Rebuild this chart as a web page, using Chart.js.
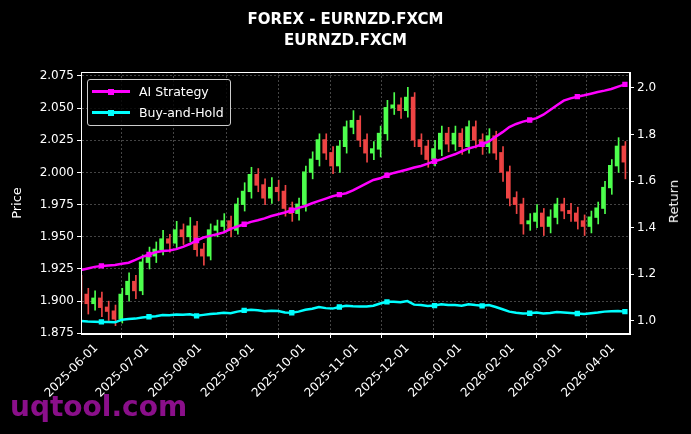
<!DOCTYPE html>
<html><head><meta charset="utf-8">
<script src="https://cdn.jsdelivr.net/npm/chart.js@4/dist/chart.umd.min.js"></script>
<style>
html,body{margin:0;padding:0;background:#000;overflow:hidden}
#wrap{position:relative;width:691px;height:434px;font-family:"DejaVu Sans",sans-serif}
#title{position:absolute;top:9px;left:0;width:691px;text-align:center;color:#fff;font-weight:bold;font-size:15px;line-height:21px}
#legend{position:absolute;left:87px;top:79px;border:1px solid #ccc;border-radius:3px;padding:1px 6px 2px 4px;color:#fff;font-size:12.5px;line-height:21px;background:rgba(0,0,0,0.8)}
#legend span.l{display:inline-block;width:38px;height:3px;vertical-align:middle;margin-right:9px;position:relative;top:-1px}
#legend span.l i{position:absolute;left:16px;top:-1.5px;width:6px;height:6px}
#wm{position:absolute;left:10px;top:390px;color:#8a0f8a;font-weight:bold;font-size:28px;font-family:"DejaVu Sans",sans-serif}
#rt{position:absolute;left:666px;top:180px;color:#ffffff;font-weight:normal;font-size:13px;line-height:16px;writing-mode:vertical-rl;transform:rotate(180deg);z-index:5}
</style></head><body>
<div id="wrap">
<canvas id="c" width="691" height="434"></canvas>
<div id="title">FOREX - EURNZD.FXCM<br>EURNZD.FXCM</div>
<div id="legend"><div><span class="l" style="background:#ff00ff"><i style="background:#ff00ff"></i></span>AI Strategy</div><div><span class="l" style="background:#00ffff"><i style="background:#00ffff"></i></span>Buy-and-Hold</div></div>
<div id="rt">Return</div>
<div id="wm">uqtool.com</div>
</div>
<script>
// day offsets from 2025-05-23, every 4 days
const startDate = Date.UTC(2025,4,23);
const days = [];
for (let d = 0; d <= 320; d += 4) days.push(d);
const firstOpen = 1.915;
const closes = [1.905,1.898,1.902,1.895,1.892,1.886,1.905,1.915,1.908,1.930,1.935,1.940,1.948,1.945,1.955,1.950,1.958,1.940,1.935,1.955,1.958,1.962,1.955,1.975,1.985,1.998,1.990,1.980,1.988,1.985,1.972,1.968,1.975,2.000,2.010,2.025,2.015,2.005,2.020,2.035,2.040,2.025,2.015,2.018,2.030,2.050,2.052,2.048,2.058,2.025,2.020,2.010,2.018,2.030,2.022,2.030,2.020,2.035,2.025,2.020,2.028,2.015,2.000,1.980,1.975,1.960,1.962,1.968,1.958,1.965,1.975,1.970,1.968,1.962,1.958,1.965,1.972,1.988,2.005,2.020,2.008];
const highs = [1.920,1.910,1.908,1.907,1.900,1.897,1.910,1.922,1.920,1.936,1.942,1.946,1.955,1.952,1.962,1.960,1.965,1.962,1.945,1.960,1.963,1.968,1.966,1.980,1.992,2.004,2.003,1.995,1.996,1.994,1.990,1.977,1.980,2.005,2.016,2.030,2.030,2.020,2.025,2.040,2.048,2.044,2.030,2.024,2.036,2.056,2.062,2.058,2.066,2.062,2.030,2.025,2.025,2.036,2.035,2.036,2.034,2.040,2.040,2.030,2.034,2.032,2.020,2.005,1.985,1.980,1.968,1.975,1.972,1.971,1.980,1.980,1.976,1.973,1.967,1.970,1.977,1.993,2.010,2.027,2.024];
const lows = [1.898,1.890,1.893,1.888,1.885,1.881,1.883,1.900,1.902,1.905,1.925,1.930,1.936,1.938,1.940,1.944,1.946,1.935,1.928,1.932,1.950,1.953,1.950,1.952,1.970,1.980,1.985,1.975,1.976,1.978,1.966,1.962,1.963,1.970,1.995,2.005,2.010,1.999,2.000,2.015,2.030,2.020,2.008,2.010,2.012,2.025,2.045,2.042,2.043,2.020,2.014,2.004,2.005,2.013,2.016,2.017,2.014,2.015,2.019,2.014,2.015,2.010,1.993,1.974,1.968,1.952,1.955,1.957,1.951,1.953,1.960,1.964,1.962,1.956,1.951,1.953,1.960,1.968,1.983,2.000,1.995];
const aiReturn = [1.218,1.225,1.232,1.236,1.238,1.240,1.245,1.250,1.262,1.275,1.285,1.295,1.300,1.302,1.308,1.318,1.330,1.345,1.358,1.365,1.372,1.380,1.395,1.405,1.415,1.425,1.432,1.440,1.450,1.458,1.465,1.475,1.485,1.493,1.505,1.515,1.525,1.535,1.542,1.548,1.560,1.575,1.590,1.605,1.612,1.625,1.635,1.642,1.650,1.658,1.665,1.675,1.685,1.693,1.705,1.715,1.728,1.740,1.748,1.758,1.770,1.790,1.810,1.832,1.845,1.855,1.862,1.870,1.885,1.905,1.925,1.945,1.955,1.962,1.968,1.975,1.982,1.988,1.995,2.005,2.015];
const bhReturn = [1.000,0.998,0.997,0.996,0.995,0.994,1.005,1.008,1.010,1.015,1.018,1.020,1.025,1.024,1.028,1.027,1.029,1.022,1.026,1.030,1.032,1.035,1.033,1.040,1.045,1.048,1.046,1.042,1.044,1.043,1.036,1.035,1.040,1.048,1.052,1.060,1.055,1.053,1.060,1.065,1.063,1.062,1.062,1.065,1.075,1.082,1.082,1.080,1.085,1.070,1.068,1.064,1.066,1.072,1.068,1.068,1.065,1.072,1.068,1.065,1.068,1.060,1.050,1.040,1.035,1.032,1.033,1.036,1.032,1.034,1.038,1.036,1.034,1.032,1.030,1.033,1.036,1.040,1.042,1.043,1.040];

const opens = closes.map((c,i)=> i===0 ? firstOpen : closes[i-1]);
const up = closes.map((c,i)=> c >= opens[i]);
const GREEN = '#4dff4d', RED = '#ee4444';
const col = up.map(u => u ? GREEN : RED);

const DAY = 86400000;
const monthTicks = [];
for (let m = 5; m <= 15; m++) monthTicks.push((Date.UTC(2025,m,1) - startDate)/DAY);
function fmt(v){ const d = new Date(startDate + v*DAY); return d.getUTCFullYear()+'-'+String(d.getUTCMonth()+1).padStart(2,'0')+'-'+String(d.getUTCDate()).padStart(2,'0'); }

const frame = {id:'frame', afterDatasetsDraw(ch){ const a=ch.chartArea, c=ch.ctx; c.save(); c.strokeStyle='#fff'; c.lineWidth=1; c.strokeRect(a.left+0.5,a.top+0.5,a.right-a.left-1,a.bottom-a.top-1); c.restore(); }};
const grid = {color:'rgba(150,150,150,0.45)', tickColor:'#fff', tickLength:4, drawTicks:true};
const tickFont = {family:'DejaVu Sans', size:12};
const pr = (c)=> c.dataIndex%7===3 ? 2 : 0;

new Chart(document.getElementById('c'), {
  data: {
    datasets: [
      {type:'bar', label:'wick', data: days.map((d,i)=>({x:d, y:[lows[i],highs[i]]})), backgroundColor: col, barThickness:1, yAxisID:'y', order:3},
      {type:'bar', label:'body', data: days.map((d,i)=>({x:d, y:[Math.min(opens[i],closes[i]), Math.max(opens[i],closes[i])+0.0005]})), backgroundColor: col, barThickness:3, yAxisID:'y', order:2},
      {type:'line', label:'AI Strategy', data: days.map((d,i)=>({x:d,y:aiReturn[i]})), borderColor:'#ff00ff', backgroundColor:'#ff00ff', borderWidth:2.5, pointStyle:'rect', pointRadius:pr, tension:0, yAxisID:'y1', order:1},
      {type:'line', label:'Buy-and-Hold', data: days.map((d,i)=>({x:d,y:bhReturn[i]})), borderColor:'#00ffff', backgroundColor:'#00ffff', borderWidth:2.5, pointStyle:'rect', pointRadius:pr, tension:0, yAxisID:'y1', order:1}
    ]
  },
  options: {
    responsive:false, animation:false,
    layout:{padding:{top:72,left:0,right:0,bottom:0}},
    plugins:{legend:{display:false}, tooltip:{enabled:false}},
    scales:{
      x:{type:'linear', min:0, max:323, offset:false,
        afterBuildTicks(s){ s.ticks = monthTicks.map(v=>({value:v})); },
        afterFit(s){ s.height = 100; },
        ticks:{color:'#fff', font:tickFont, maxRotation:45, minRotation:45, autoSkip:false, callback:(v)=>fmt(v)},
        grid:grid, border:{color:'#fff', dash:[2,2]}},
      y:{position:'left', min:1.8745, max:2.078,
        afterBuildTicks(s){ s.ticks=[1.875,1.9,1.925,1.95,1.975,2.0,2.025,2.05,2.075].map(v=>({value:v})); },
        afterFit(s){ s.width = 81; },
        ticks:{color:'#fff', font:tickFont, padding:3, callback:(v)=>v.toFixed(3)},
        title:{display:true, text:'Price', color:'#fff', padding:{top:10,bottom:0}, font:{family:'DejaVu Sans', size:13}},
        grid:grid, border:{color:'#fff', dash:[2,2]}},
      y1:{position:'right', min:0.944, max:2.068,
        afterBuildTicks(s){ s.ticks=[1.0,1.2,1.4,1.6,1.8,2.0].map(v=>({value:v})); },
        afterFit(s){ s.width = 61; },
        ticks:{color:'#fff', font:tickFont, callback:(v)=>v.toFixed(1)},
        grid:{drawOnChartArea:false, tickColor:'#fff', tickLength:4}, border:{color:'#fff'}}
    }
  },
  plugins:[frame]
});
</script>
</body></html>
